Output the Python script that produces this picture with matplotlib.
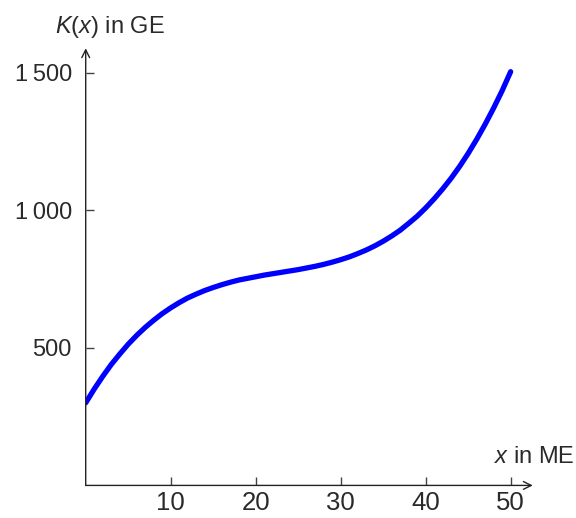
import matplotlib
matplotlib.use('Agg')
import matplotlib.pyplot as plt

plt.rcParams['font.family'] = ['Liberation Sans', 'DejaVu Sans']
plt.rcParams['mathtext.fontset'] = 'custom'
plt.rcParams['mathtext.rm'] = 'Liberation Sans'
plt.rcParams['mathtext.it'] = 'Liberation Sans:italic'

# K(x), one value per ME
x = list(range(0, 51))
k = [300, 350, 396, 439, 477, 513, 545, 574, 600, 624,
     645, 664, 681, 695, 708, 719, 729, 738, 746, 752,
     758, 764, 769, 774, 779, 784, 790, 796, 803, 811,
     820, 830, 842, 855, 870, 887, 906, 927, 952, 978,
     1008, 1041, 1077, 1116, 1159, 1206, 1257, 1312, 1371, 1434,
     1503]

xticks = [10, 20, 30, 40, 50]
yticks = [500, 1000, 1500]
ylabels = ['500', '1\u2009000', '1\u2009500']

txt = '#2a2a2a'

fig = plt.figure(figsize=(5.76, 5.18), dpi=100)
ax = fig.add_axes([0.1488, 0.0629, 0.782, 0.829])

ax.plot(x, k, color='#0000ff', lw=3.8, solid_capstyle='round')

ax.set_xlim(0, 53)
ax.set_ylim(0, 1560)
for s in ax.spines.values():
    s.set_visible(False)

# axes with open arrow heads
arr = dict(arrowstyle='->', color='#222222', lw=1.0, mutation_scale=14, shrinkA=0, shrinkB=0)
ax.annotate('', xy=(52.6, 0), xytext=(0, 0), arrowprops=arr, annotation_clip=False)
ax.annotate('', xy=(0, 1588), xytext=(0, 0), arrowprops=arr, annotation_clip=False)

ax.set_xticks(xticks)
ax.set_yticks(yticks)
ax.set_yticklabels(ylabels)
ax.tick_params(direction='in', length=6, width=1, color='#444444',
               labelsize=17, labelcolor=txt)
ax.tick_params(axis='x', pad=4, labelsize=18.5)
ax.tick_params(axis='y', pad=10)

fig.text(55 / 576, 1 - 33 / 518, r'$K$($x$) in GE',
         fontsize=17, color=txt, ha='left', va='baseline')
fig.text(575 / 576, 1 - 463 / 518, r'$x$ in ME',
         fontsize=17, color=txt, ha='right', va='baseline')

fig.savefig('out.png', dpi=100)
